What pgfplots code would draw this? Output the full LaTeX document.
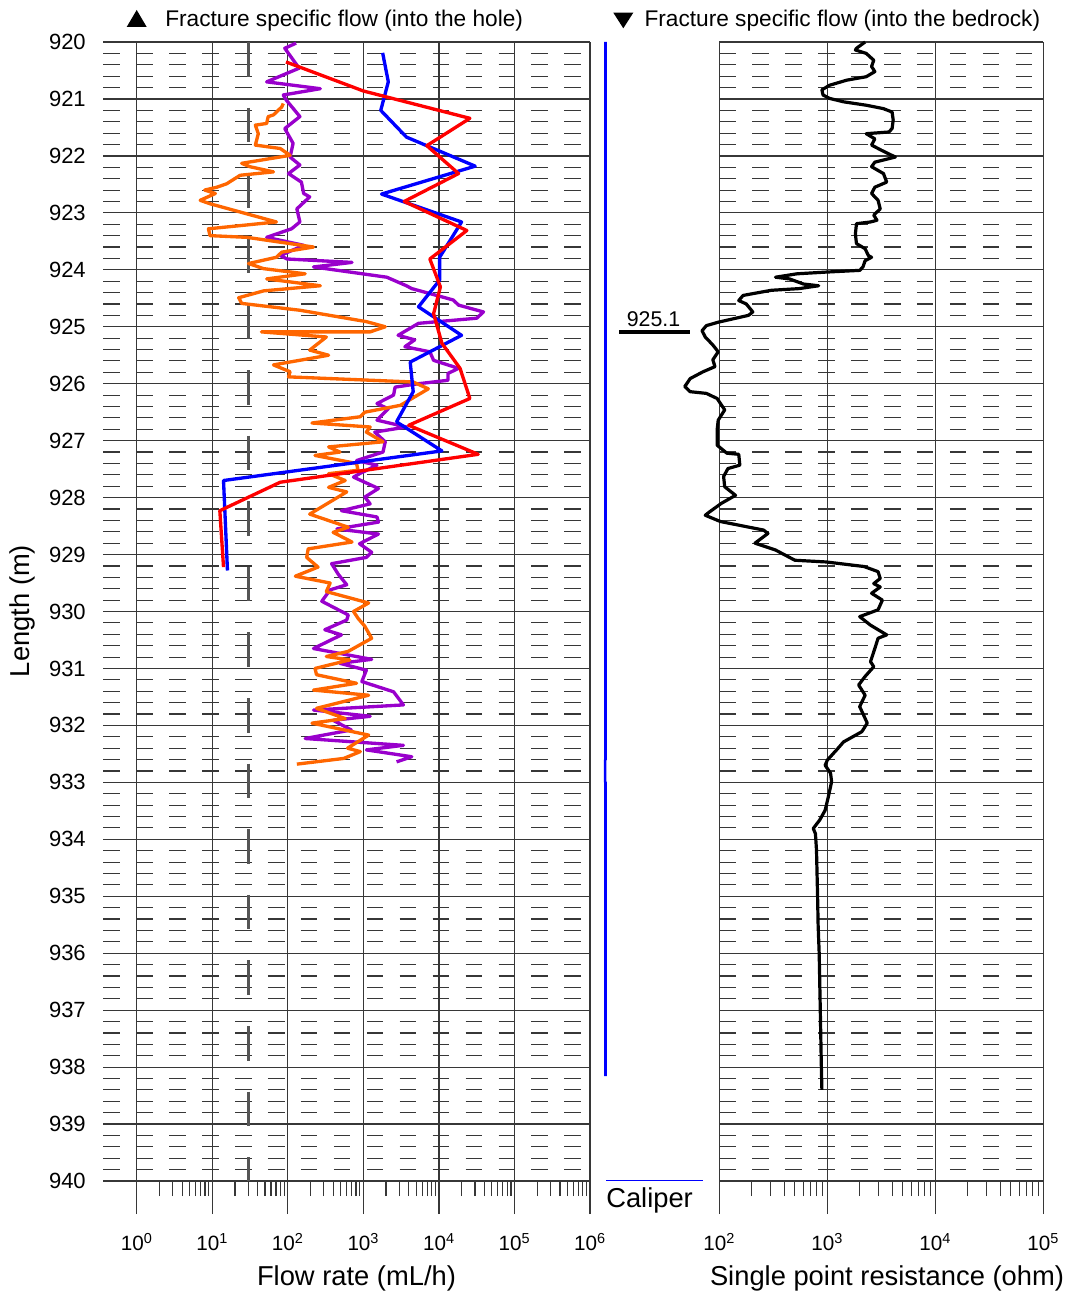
\documentclass[border=0pt]{standalone}
\usepackage{pgfplots}
\pgfplotsset{compat=1.18}
\usepackage{fontspec}
\setmainfont{Liberation Sans}
\definecolor{myorange}{RGB}{255,102,0}
\definecolor{mypurple}{RGB}{153,0,204}
\definecolor{gridgray}{RGB}{55,55,55}
\definecolor{limgray}{RGB}{85,85,85}

\begin{document}
\begin{tikzpicture}[x=0.75pt,y=0.75pt]
\useasboundingbox (0,0) rectangle (1073,1295);

% ---------------- Flow panel ----------------
\begin{axis}[at={(77.475pt,85.5pt)}, anchor=south west,
  scale only axis, width=365.025pt, height=854.25pt,
  xmode=log, xmin=0.3614, xmax=1e6,
  ymin=920, ymax=940, y dir=reverse,
  axis line style={draw=none},
  ytick={920,921,...,940}, minor y tick num=4,
  xmajorgrids, ymajorgrids, yminorgrids,
  major grid style={gridgray, line width=0.9pt},
  minor grid style={gridgray, line width=0.85pt, dash pattern=on 12.4pt off 12.3pt},
  tick align=outside, xtick pos=left, ytick pos=left,
  major tick length=24.75pt, minor tick length=11.25pt,
  ytick style={draw=none},
  xtick style={gridgray, line width=0.9pt},
  xticklabel style={font=\fontsize{15.5}{17}\selectfont, anchor=base, inner sep=0pt, yshift=-27pt},
  yticklabel style={font=\fontsize{16.5}{18}\selectfont, anchor=east, inner sep=0pt, xshift=11.75pt},
  clip=false,
  xtick={1,10,100,1000,10000,100000,1000000},
  xticklabels={10\textsuperscript{0},10\textsuperscript{1},10\textsuperscript{2},10\textsuperscript{3},10\textsuperscript{4},10\textsuperscript{5},10\textsuperscript{6}},
  minor xtick={2,3,4,5,6,7,8,9,20,30,40,50,60,70,80,90,200,300,400,500,600,700,800,900,
    2000,3000,4000,5000,6000,7000,8000,9000,2e4,3e4,4e4,5e4,6e4,7e4,8e4,9e4,
    2e5,3e5,4e5,5e5,6e5,7e5,8e5,9e5},
  yticklabels={920,921,922,923,924,925,926,927,928,929,930,931,932,933,934,935,936,937,938,939,940},
]
% lower measurement limit
\addplot[limgray, line width=2.6pt, dash pattern=on 25.9pt off 23.3pt] coordinates {(30,920) (30,940)};
% purple
\addplot[mypurple, line width=2.5pt, line join=round] coordinates {
(128.8,920.02) (91.2,920.11) (141.3,920.46) (52.5,920.70) (269.2,920.82) (87.1,920.93)
(95.5,921.02) (144.5,921.31) (91.2,921.52) (117.5,921.78) (107.2,922.02) (144.5,922.16)
(102.3,922.31) (151.4,922.46) (162.2,922.66) (195.0,922.72) (131.8,922.93) (144.5,923.16)
(112.2,923.28) (52.5,923.43) (162.2,923.57) (79.4,923.75) (97.7,923.81) (707.9,923.87)
(218.8,923.95) (2042,924.13) (3715,924.28) (4365,924.33) (15490,924.53) (18200,924.62)
(38900,924.74) (31620,924.85) (5370,924.94) (2884,925.15) (4786,925.23) (3548,925.35)
(7586,925.44) (8511,925.59) (18200,925.73) (13180,925.82) (13180,925.94) (5370,926.00)
(2630,926.06) (2512,926.20) (2042,926.26) (1514,926.35) (2138,926.44) (1514,926.64)
(3715,926.76) (1413,926.85) (1950,927.02) (1820,927.20) (812.8,927.35) (1514,927.43)
(891.3,927.58) (741.3,927.64) (1585,927.84) (1047,927.99) (1230,928.11) (512.9,928.23)
(1514,928.34) (1585,928.43) (446.7,928.55) (1585,928.64) (891.3,928.81) (1288,928.96)
(1096,929.05) (380.2,929.16) (467.7,929.35) (602.6,929.53) (363.1,929.62) (281.8,929.82)
(631.0,930.06) (602.6,930.15) (309.0,930.32) (512.9,930.41) (218.8,930.65) (1288,930.84)
(489.8,930.91) (1096,931.03) (955.0,931.23) (2512,931.41) (3388,931.64) (218.8,931.73)
(1230,931.84) (398.1,931.91) (691.8,932.08) (169.8,932.23) (3388,932.35) (1096,932.43)
(4365,932.55) (2754,932.64)
};
% orange
\addplot[myorange, line width=2.5pt, line join=round] coordinates {
(87.1,921.08) (83.2,921.14) (64.6,921.28) (55.0,921.31) (52.5,921.43) (37.2,921.46)
(40.7,921.61) (37.2,921.81) (79.4,921.87) (107.2,921.99) (24.5,922.13) (31.6,922.19)
(64.6,922.28) (23.4,922.34) (15.5,922.49) (11.5,922.55) (7.94,922.60) (11.0,922.66)
(6.92,922.78) (9.33,922.84) (70.8,923.16) (8.91,923.28) (9.33,923.40) (28.8,923.43)
(218.8,923.60) (83.2,923.69) (70.8,923.78) (30.2,923.89) (47.9,923.98) (169.8,924.07)
(52.5,924.16) (269.2,924.28) (47.9,924.37) (22.4,924.49) (24.5,924.59) (144.5,924.71)
(1096,924.91) (1950,925.00) (1230,925.09) (44.7,925.09) (323.6,925.18) (195.0,925.41)
(346.7,925.50) (64.6,925.67) (107.2,925.79) (102.3,925.88) (4571,925.97) (7244,926.09)
(3090,926.38) (1047,926.50) (912.0,926.58) (208.9,926.69) (1230,926.76) (1096,926.85)
(1820,927.02) (346.7,927.11) (489.8,927.20) (229.1,927.26) (812.8,927.40) (851.1,927.52)
(346.7,927.58) (575.4,927.70) (346.7,927.82) (602.6,927.90) (195.0,928.29) (631.0,928.52)
(398.1,928.61) (707.9,928.78) (186.2,928.90) (177.8,929.05) (251.2,929.22) (125.9,929.38)
(363.1,929.50) (323.6,929.65) (1175,929.85) (741.3,930.00) (851.1,930.12) (1047,930.26)
(1288,930.47) (631.0,930.70) (323.6,930.79) (660.7,930.85) (229.1,931.00) (239.9,931.11)
(812.8,931.26) (218.8,931.38) (1175,931.47) (239.9,931.70) (575.4,931.88) (208.9,931.96)
(1175,932.17) (616.6,932.40) (912.0,932.46) (549.5,932.58) (131.8,932.68)
};
% blue
\addplot[blue, line width=2.5pt, line join=round] coordinates {
(1800,920.19) (2140,920.70) (1700,921.20) (3720,921.67) (6610,921.81) (30200,922.18)
(1740,922.67) (19950,923.16) (10230,923.78) (10230,924.18) (5370,924.65) (19950,925.15)
(4170,925.62) (4570,926.14) (2750,926.67) (10960,927.18) (14.1,927.70) (15.9,929.28)
};
% red
\addplot[red, line width=2.5pt, line join=round] coordinates {
(94.6,920.35) (1000,920.86) (25700,921.34) (6920,921.82) (18200,922.31) (3470,922.80)
(23440,923.31) (7590,923.81) (10470,924.30) (8510,924.77) (10960,925.29) (19050,925.73)
(25700,926.26) (3980,926.73) (33110,927.24) (79.4,927.73) (12.6,928.23) (14.1,929.22)
};
\end{axis}

% ---------------- Caliper panel ----------------
\begin{axis}[at={(450pt,85.5pt)}, anchor=south west, scale only axis,
  width=78.75pt, height=854.25pt, xmin=75, xmax=80, ymin=920, ymax=940, y dir=reverse,
  hide axis, clip=false]
\addplot[blue, line width=1.9pt] coordinates {
(75.262,920) (75.262,932.60) (75.245,932.61) (75.245,932.99) (75.262,933.00) (75.262,938.16)
};
\draw[black, line width=3pt] (axis cs:75.905,925.1) -- (axis cs:79.286,925.1);
\node[anchor=base, inner sep=0pt, font=\fontsize{16}{18}\selectfont] at (axis cs:77.55,925.0) {925.1};
\end{axis}

% ---------------- SPR panel ----------------
\begin{axis}[at={(539.475pt,85.5pt)}, anchor=south west,
  scale only axis, width=243pt, height=854.25pt,
  xmode=log, xmin=100, xmax=1e5,
  ymin=920, ymax=940, y dir=reverse,
  axis line style={draw=none},
  ytick={920,921,...,940}, minor y tick num=4,
  xmajorgrids, ymajorgrids, yminorgrids,
  major grid style={gridgray, line width=0.9pt},
  minor grid style={gridgray, line width=0.85pt, dash pattern=on 12.4pt off 12.3pt},
  tick align=outside, xtick pos=left, ytick pos=left,
  major tick length=24.75pt, minor tick length=11.25pt,
  ytick style={draw=none},
  xtick style={gridgray, line width=0.9pt},
  xticklabel style={font=\fontsize{15.5}{17}\selectfont, anchor=base, inner sep=0pt, yshift=-27pt},
  clip=false,
  xtick={100,1000,10000,100000},
  xticklabels={10\textsuperscript{2},10\textsuperscript{3},10\textsuperscript{4},10\textsuperscript{5}},
  minor xtick={200,300,400,500,600,700,800,900,2000,3000,4000,5000,6000,7000,8000,9000,
    2e4,3e4,4e4,5e4,6e4,7e4,8e4,9e4},
  yticklabels={},
]
\addplot[black, line width=2.4pt, line join=round] coordinates {
(2239,920.00) (1862,920.11) (1820,920.14) (2291,920.20) (2692,920.32) (2570,920.43)
(2754,920.52) (2291,920.61) (1514,920.67) (1047,920.76) (891.3,920.84) (912.0,920.93)
(1047,920.99) (1413,921.05) (2291,921.11) (3311,921.17) (3981,921.23) (4074,921.37)
(3981,921.52) (3715,921.58) (2291,921.61) (2754,921.70) (2570,921.81) (3162,921.90)
(4266,922.02) (2754,922.11) (2570,922.19) (3311,922.31) (3548,922.46) (2754,922.55)
(2570,922.66) (2951,922.78) (3090,922.93) (2692,923.04) (2884,923.13) (2512,923.16)
(1862,923.19) (1820,923.37) (1862,923.54) (2239,923.63) (2399,923.75) (2570,923.78)
(2239,923.84) (2138,923.95) (1995,924.01) (977.2,924.04) (524.8,924.07) (331.1,924.13)
(446.7,924.16) (602.6,924.25) (831.8,924.28) (549.5,924.33) (302.0,924.36) (166.0,924.45)
(151.4,924.54) (177.8,924.60) (204.2,924.74) (186.2,924.80) (97.7,924.92) (75.9,924.98)
(69.2,925.07) (74.1,925.18) (87.1,925.32) (97.7,925.44) (87.1,925.58) (91.2,925.70)
(70.8,925.79) (53.7,925.91) (47.9,926.05) (53.7,926.14) (75.9,926.17) (95.5,926.26)
(112.2,926.46) (97.7,926.64) (95.5,926.81) (95.5,927.08) (117.5,927.22) (151.4,927.24)
(154.9,927.43) (120.2,927.49) (109.6,927.63) (112.2,927.81) (141.3,927.96) (104.7,928.10)
(81.3,928.25) (74.1,928.31) (102.3,928.42) (177.8,928.51) (257.0,928.57) (281.8,928.63)
(213.8,928.80) (331.1,928.92) (501.2,929.10) (977.2,929.13) (2188,929.21) (2951,929.30)
(3090,929.42) (2692,929.51) (3090,929.57) (2570,929.68) (3236,929.80) (2951,929.97)
(1995,930.09) (2512,930.24) (3548,930.41) (2951,930.47) (2754,930.65) (2512,930.88)
(2692,930.97) (2239,931.14) (1950,931.29) (2239,931.47) (1995,931.67) (2344,931.96)
(2089,932.11) (1413,932.29) (1259,932.40) (1000,932.61) (955.0,932.70) (1072,932.84)
(1096,932.99) (1023,933.25) (955.0,933.49) (851.1,933.66) (741.3,933.81) (776.2,933.90)
(794.3,934.19) (803.5,934.60) (812.8,935.00) (822.0,935.50) (841.0,936.00) (851.0,936.50)
(861.0,937.00) (871.0,937.50) (881.0,938.00) (891.0,938.40)
};
\end{axis}

% ---------------- titles and labels ----------------
\fill (126.7,1268) -- (146.7,1268) -- (136.7,1285) -- cycle;
\node[anchor=base west, inner sep=0pt, font=\fontsize{17}{20}\selectfont] at (165,1268.3) {Fracture specific flow (into the hole)};
\fill (613.3,1282.3) -- (633.3,1282.3) -- (623.3,1266.7) -- cycle;
\node[anchor=base west, inner sep=0pt, font=\fontsize{17}{20}\selectfont] at (644.3,1268.3) {Fracture specific flow (into the bedrock)};
\node[rotate=90, inner sep=0pt, font=\fontsize{20.5}{24}\selectfont] at (22,684) {Length (m)};
\node[anchor=base, inner sep=0pt, font=\fontsize{20.5}{24}\selectfont] at (356.5,9) {Flow rate (mL/h)};
\node[anchor=base, inner sep=0pt, font=\fontsize{20.5}{24}\selectfont] at (887,9) {Single point resistance (ohm)};
\draw[blue, line width=0.75pt] (606,114) -- (703,114);
\node[anchor=base west, inner sep=0pt, font=\fontsize{20.5}{24}\selectfont] at (606,87) {Caliper};
\end{tikzpicture}
\end{document}
